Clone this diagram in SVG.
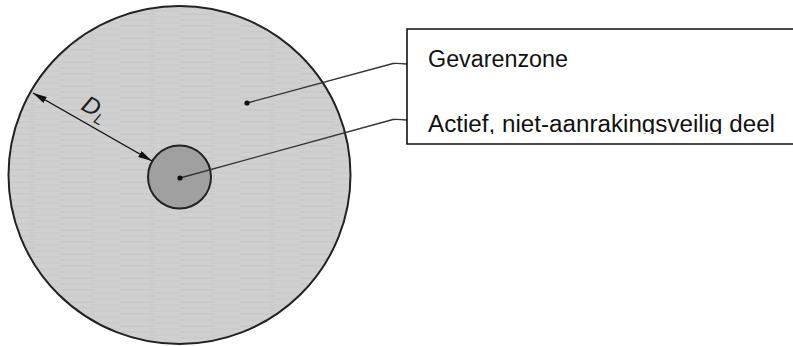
<svg xmlns="http://www.w3.org/2000/svg" width="793" height="346" viewBox="0 0 793 346">
  <defs>
    <style>
      .lbl { font-family: "Liberation Sans", Arial, sans-serif; font-size: 23px; fill: #111; }
      .lead { fill: none; stroke: #333; stroke-width: 1.3; }
      .dot { fill: #111; }
      .edge { stroke: #111; stroke-width: 1.6; fill: none; }
    </style>
    <pattern id="streaks" width="60" height="6" patternUnits="userSpaceOnUse">
      <rect width="60" height="6" fill="#d0d0d0"/>
      <line x1="0" y1="2" x2="35" y2="2" stroke="#c4c4c4" stroke-width="1"/>
      <line x1="30" y1="5" x2="60" y2="5" stroke="#c9c9c9" stroke-width="1"/>
    </pattern>
    <marker id="arr" viewBox="0 0 14 7" refX="14" refY="3.5" markerWidth="14" markerHeight="7" markerUnits="userSpaceOnUse" orient="auto-start-reverse">
      <path d="M0,0 L14,3.5 L0,7 Z" fill="#111"/>
    </marker>
    <clipPath id="boxclip">
      <rect x="407" y="29" width="386" height="105"/>
    </clipPath>
  </defs>

  <g id="gevarenzone-area">
    <ellipse cx="179.5" cy="175" rx="171" ry="169" fill="url(#streaks)" stroke="#222" stroke-width="2"/>
  </g>

  <g id="actief-deel">
    <circle cx="179.5" cy="177" r="31.5" fill="#a0a0a0" stroke="#222" stroke-width="2"/>
  </g>

  <g id="dimension-DL">
    <line x1="33" y1="93" x2="152" y2="161" stroke="#111" stroke-width="1.4" marker-start="url(#arr)" marker-end="url(#arr)"/>
    <text transform="translate(80,109) rotate(29)" font-family="'Liberation Sans', Arial, sans-serif" font-style="italic" font-size="24" fill="#222">D<tspan font-size="15" dy="5">L</tspan></text>
  </g>

  <g id="connectors">
    <path class="lead" d="M247,103 L393,63.5 Q397,63 407,64"/>
    <circle class="dot" cx="247" cy="103" r="2.6"/>
    <path class="lead" d="M180,178 L393,119.5 Q397,119 407,120"/>
    <circle class="dot" cx="180" cy="178" r="2.6"/>
  </g>

  <g id="legend-box">
    <path class="edge" d="M793,29 L407,29 L407,144 L793,144"/>
    <g clip-path="url(#boxclip)">
      <text class="lbl" x="428" y="66.7" textLength="140" lengthAdjust="spacingAndGlyphs">Gevarenzone</text>
      <text class="lbl" x="428" y="131.7" textLength="347" lengthAdjust="spacingAndGlyphs">Actief, niet-aanrakingsveilig deel</text>
    </g>
  </g>
</svg>
